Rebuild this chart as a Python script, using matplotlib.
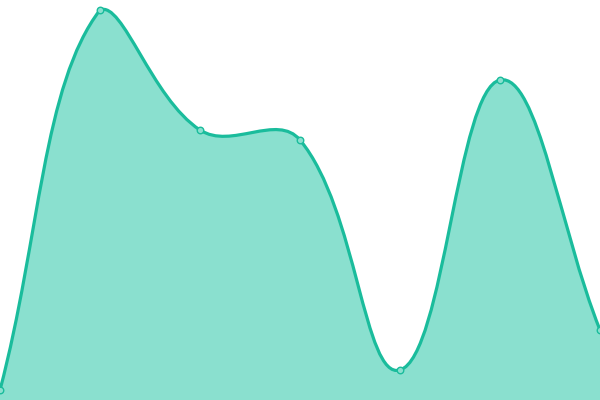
import numpy as np
import matplotlib
matplotlib.use("Agg")
import matplotlib.pyplot as plt
from matplotlib.path import Path
from matplotlib.patches import PathPatch

labels = ["A", "B", "C", "D", "E", "F", "G"]
values = [10, 390, 270, 260, 30, 320, 70]

line_color = "#1abc9c"
fill_color = "#8ae0cf"
tension = 0.4

fig = plt.figure(figsize=(6, 4), dpi=100)
ax = fig.add_axes([0, 0, 1, 1])
ax.set_xlim(0, len(labels) - 1)
ax.set_ylim(0, 400)
ax.axis("off")

# work in pixel space like a canvas chart would
pts = ax.transData.transform(np.column_stack([np.arange(len(values)), values]))
bbox = ax.bbox
cps = []
for i in range(len(pts)):
    prev = pts[i - 1] if i > 0 else pts[i]
    cur = pts[i]
    nxt = pts[i + 1] if i < len(pts) - 1 else pts[i]
    d01 = np.hypot(*(cur - prev))
    d12 = np.hypot(*(nxt - cur))
    tot = d01 + d12
    s01 = d01 / tot if tot else 0
    s12 = d12 / tot if tot else 0
    before = cur - tension * s01 * (nxt - prev)
    after = cur + tension * s12 * (nxt - prev)
    before[1] = np.clip(before[1], bbox.y0, bbox.y1)
    after[1] = np.clip(after[1], bbox.y0, bbox.y1)
    cps.append((before, after))

verts = [pts[0]]
codes = [Path.MOVETO]
for i in range(len(pts) - 1):
    verts += [cps[i][1], cps[i + 1][0], pts[i + 1]]
    codes += [Path.CURVE4] * 3
inv = ax.transData.inverted()
curve = inv.transform(np.array(verts))

line_path = Path(curve, codes)
fill_verts = np.vstack([curve, [[len(values) - 1, 0], [0, 0], curve[0]]])
fill_codes = codes + [Path.LINETO, Path.LINETO, Path.CLOSEPOLY]

ax.add_patch(PathPatch(Path(fill_verts, fill_codes), facecolor=fill_color, edgecolor="none"))
ax.add_patch(PathPatch(line_path, facecolor="none", edgecolor=line_color, linewidth=2.3, capstyle="round", joinstyle="round"))
ax.scatter(range(len(values)), values, s=22, facecolor=fill_color, edgecolor=line_color, linewidth=1, zorder=3, clip_on=False)

fig.savefig("out.png", dpi=100)
